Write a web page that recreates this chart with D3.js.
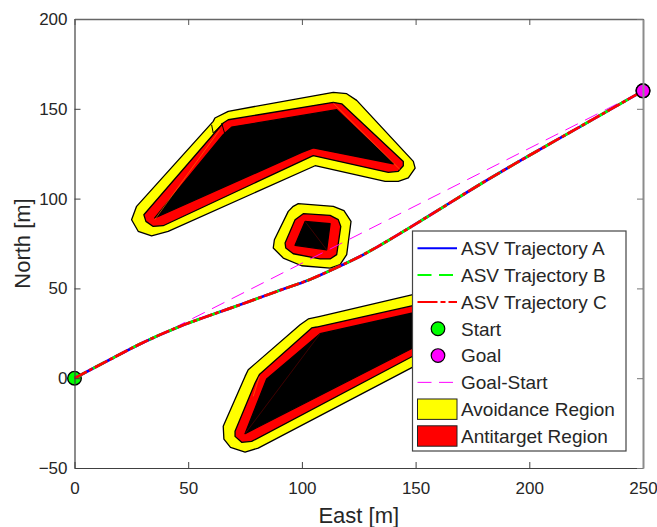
<!DOCTYPE html>
<html>
<head>
<meta charset="utf-8">
<script src="https://cdn.jsdelivr.net/npm/d3@7"></script>
<style>
	html, body { margin: 0; padding: 0; background: #fff; }
	svg { display: block; }
	text { font-family: "Liberation Sans", Arial, sans-serif; fill: #262626; }
</style>
</head>
<body>
<div id="chart"></div>
<script>
var xTicks = [0, 50, 100, 150, 200, 250];
var yTicks = [-50, 0, 50, 100, 150, 200];

// all three trajectories lie on top of each other in the picture
var trajEast = [0, 15, 30.2, 46.3, 62.5, 72.8, 88.9, 103.6, 116.8, 125.5, 133, 147.6, 163, 178.4, 194.5, 210.7, 222.4, 250];
var trajA = [0, 10, 19.9, 28.8, 36.3, 40.9, 48.3, 55, 62.5, 67.8, 73, 84, 96, 108, 120, 131.7, 140.1, 160];
var trajB = [0, 10, 19.9, 28.8, 36.3, 40.9, 48.3, 55, 62.5, 67.8, 73, 84, 96, 108, 120, 131.7, 140.1, 160];
var trajC = [0, 10, 19.9, 28.8, 36.3, 40.9, 48.3, 55, 62.5, 67.8, 73, 84, 96, 108, 120, 131.7, 140.1, 160];

var startPoint = [0, 0];
var goalPoint = [250, 160];

var avoidTop = [[61.75,144.9],[67.6,148.6],[113.8,159.2],[119.7,158.4],[124.1,154.7],[149,120.7],[149.8,117],[146.8,111.5],[142.4,109.6],[136.6,109.6],[105.8,118.3],[41.2,81.8],[33.9,79.3],[28,81.8],[25.1,88.2],[27.3,95.7],[61,143]];
var antiTop = [[65.4,142.1],[67.6,143.9],[113.8,153.6],[117.5,152.8],[144.6,120.7],[144.6,118.3],[142.4,115.2],[138,114.6],[105,123.9],[39,84.9],[34.6,84.5],[31.4,87.3],[30.5,91]];
var coreTop = [[69.1,139.8],[115.3,149.5],[140.2,119.4],[105,128.2],[99.9,125.7],[35.3,89.2],[65.4,135.6]];

var avoidMid = [[98.4,97.2],[113.8,95.7],[118.5,93.3],[121.6,87.3],[119.7,68.8],[116.8,63.2],[112.4,61.3],[99.9,62.6],[91.8,66.9],[87.4,72.5],[87.9,77.1],[94,92.9],[96.2,95.7]];
var antiMid = [[100.6,91.6],[112.4,90.7],[116,88.3],[117.1,84.5],[115.3,68.8],[112.4,66.4],[108,66.4],[96.2,69.3],[92.9,72.5],[92.6,75.3],[97,88.2]];
var coreMid = [[101.4,87.3],[112.4,86],[110.9,71.5],[97,74]];

// right end of the bottom region is hidden by the legend
var avoidBot = [[65.4,-26.8],[65.7,-33.9],[68.6,-38.5],[75,-41.1],[80.8,-38.9],[148.75,6.2],[170,25],[148.75,46.5],[108,34.4],[102.8,33],[99.2,29.8],[76.4,4.7],[75,1]];
var antiBot = [[70.6,-29.6],[70.6,-32.4],[73.5,-35.7],[77.9,-35.2],[148.75,12.2],[168,25],[148.75,40.4],[106.5,28.5],[104.3,28],[81.3,2],[79.4,-2.7]];
var coreBot = [[75,-30.9],[148.75,16.8],[165,25],[148.75,36.3],[108,24.8],[84.5,-0.5]];

var blackSeams = [
	[[60.3,141.1],[61,136.5],[64.7,141.1]],
	[[64.7,142.1],[66.2,135.6]]
];
var darkSeams = [
	[[101.4,87.3],[110.9,71.5]],
	[[75,-30.9],[108,24.8]]
];
var orangeSeams = [
	[[63.9,138.4],[35.3,88.3]],
	[[113.8,153.2],[143.2,116.1]],
	[[81.3,1],[78.6,-10.1]]
];

var legendLabels = ["ASV Trajectory A", "ASV Trajectory B", "ASV Trajectory C", "Start", "Goal", "Goal-Start", "Avoidance Region", "Antitarget Region"];

var margin = {left: 74.5, right: 14, top: 19, bottom: 59},
	width = 657 - margin.left - margin.right,
	height = 527 - margin.top - margin.bottom;

var x = d3.scaleLinear().domain([0, 250]).range([0, width]);
var y = d3.scaleLinear().domain([-50, 200]).range([height, 0]);

var svg = d3.select("#chart").append("svg")
	.attr("width", 657)
	.attr("height", 527);

var g = svg.append("g")
	.attr("transform", "translate(" + margin.left + "," + margin.top + ")");

var poly = d3.line().x(function(d) { return x(d[0]); }).y(function(d) { return y(d[1]); });
function closed(pts) { return poly(pts) + "Z"; }

function region(pts, fill) {
	g.append("path")
		.attr("d", closed(pts))
		.attr("fill", fill)
		.attr("stroke", "#000")
		.attr("stroke-width", 1.3)
		.attr("stroke-linejoin", "round");
}

[avoidTop, avoidMid, avoidBot].forEach(function(r) {
	region(r, "#ffff00");
});
[[antiTop, coreTop], [antiMid, coreMid], [antiBot, coreBot]].forEach(function(r) {
	region(r[0], "#ff0000");
	region(r[1], "#000");
});

function seams(list, colour, w) {
	list.forEach(function(s) {
		g.append("path").attr("d", poly(s)).attr("fill", "none")
			.attr("stroke", colour).attr("stroke-width", w);
	});
}
seams(blackSeams, "#000", 1);
seams(darkSeams, "#6a0000", 0.6);
seams(orangeSeams, "#ff7a00", 0.6);

// goal-start line
g.append("path")
	.attr("d", poly([startPoint, goalPoint]))
	.attr("fill", "none")
	.attr("stroke", "#ff00ff")
	.attr("stroke-width", 1)
	.attr("stroke-dasharray", "14,8");

function traj(values, colour, dash) {
	var line = d3.line()
		.x(function(d, i) { return x(trajEast[i]); })
		.y(function(d) { return y(d); })
		.curve(d3.curveCatmullRom.alpha(0.5));
	var p = g.append("path")
		.attr("d", line(values))
		.attr("fill", "none")
		.attr("stroke", colour)
		.attr("stroke-width", 2.7);
	if(dash) { p.attr("stroke-dasharray", dash); }
}

function marker(pt, colour) {
	g.append("circle")
		.attr("cx", x(pt[0]))
		.attr("cy", y(pt[1]))
		.attr("r", 6.8)
		.attr("fill", colour)
		.attr("stroke", "#000")
		.attr("stroke-width", 1.4);
}
marker(startPoint, "#00ff00");
marker(goalPoint, "#ff00ff");

// the trajectories are drawn over the start marker, under the goal marker's rim
traj(trajA, "#0000ff");
traj(trajB, "#00ff00", "13,8");
traj(trajC, "#ff0000", "14,2.5,4,2.5");
marker(goalPoint, "#ff00ff");

// axes
var xAxis = d3.axisBottom(x).tickValues(xTicks).tickSize(-6).tickSizeOuter(0).tickPadding(14);
var yAxis = d3.axisLeft(y).tickValues(yTicks).tickSize(-6).tickSizeOuter(0).tickPadding(7);

var gx = g.append("g").attr("transform", "translate(0," + height + ")").call(xAxis);
var gy = g.append("g").call(yAxis);
var gt = g.append("g").call(d3.axisTop(x).tickValues(xTicks).tickSize(-6).tickSizeOuter(0).tickFormat(""));
var gr = g.append("g").attr("transform", "translate(" + width + ",0)")
	.call(d3.axisRight(y).tickValues(yTicks).tickSize(-6).tickSizeOuter(0).tickFormat(""));

[gx, gy].forEach(function(a) {
	a.attr("font-family", null).attr("font-size", null);
	a.selectAll("text").style("font-size", "17px");
	a.selectAll("line").attr("stroke", "#404040");
	a.select(".domain").attr("stroke", "#404040").attr("stroke-width", 1.2);
});
gt.selectAll("line").attr("stroke", "#555");
gt.select(".domain").attr("stroke", "#666").attr("stroke-width", 1.5);
gr.selectAll("line").attr("stroke", "#777");
gr.select(".domain").attr("stroke", "#8c8c8c").attr("stroke-width", 2);

svg.append("text")
	.attr("x", margin.left + width / 2)
	.attr("y", 523)
	.attr("text-anchor", "middle")
	.style("font-size", "22px")
	.text("East [m]");

svg.append("text")
	.attr("transform", "translate(29.5," + (margin.top + height / 2) + ") rotate(-90)")
	.attr("text-anchor", "middle")
	.style("font-size", "22px")
	.text("North [m]");

// legend
var legend = svg.append("g").attr("transform", "translate(412.5,231)");
legend.append("rect")
	.attr("width", 213.5)
	.attr("height", 220)
	.attr("fill", "#fff")
	.attr("stroke", "#444")
	.attr("stroke-width", 1.2);

var rowY = d3.scalePoint().domain(legendLabels).range([17.3, 205]);

legend.selectAll("text.entry")
	.data(legendLabels)
	.enter().append("text")
	.attr("class", "entry")
	.attr("x", 48.5)
	.attr("y", function(d) { return rowY(d); })
	.attr("dy", "0.36em")
	.style("font-size", "19px")
	.text(function(d) { return d; });

function legendLine(label, colour, w, dash) {
	var l = legend.append("line")
		.attr("x1", 5).attr("x2", 44.5)
		.attr("y1", rowY(label)).attr("y2", rowY(label))
		.attr("stroke", colour)
		.attr("stroke-width", w);
	if(dash) { l.attr("stroke-dasharray", dash); }
}
legendLine(legendLabels[0], "#0000ff", 2);
legendLine(legendLabels[1], "#00ff00", 2, "14,7.5");
legendLine(legendLabels[2], "#ff0000", 2, "20,3,5,3");
legendLine(legendLabels[5], "#ff00ff", 1, "14,7.5");

function legendDot(label, colour) {
	legend.append("circle")
		.attr("cx", 25.5).attr("cy", rowY(label))
		.attr("r", 6.8)
		.attr("fill", colour)
		.attr("stroke", "#000")
		.attr("stroke-width", 1.2);
}
legendDot(legendLabels[3], "#00ff00");
legendDot(legendLabels[4], "#ff00ff");

function legendPatch(label, colour) {
	legend.append("rect")
		.attr("x", 5).attr("width", 39.5)
		.attr("y", rowY(label) - 10.2).attr("height", 20.4)
		.attr("fill", colour)
		.attr("stroke", "#222")
		.attr("stroke-width", 1);
}
legendPatch(legendLabels[6], "#ffff00");
legendPatch(legendLabels[7], "#ff0000");
</script>
</body>
</html>
